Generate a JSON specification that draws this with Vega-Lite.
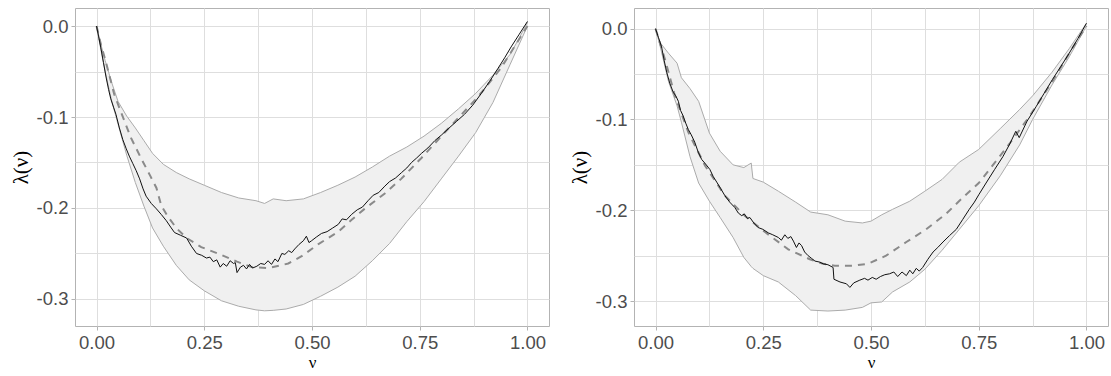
{
  "$schema": "https://vega.github.io/schema/vega-lite/v6.json",
  "background": "white",
  "padding": {"left": 9, "top": 7, "right": 8, "bottom": 0},
  "spacing": 18,
  "config": {
    "view": {"stroke": "#B3B3B3", "strokeWidth": 1},
    "axis": {
      "domain": false,
      "gridColor": "#DEDEDE",
      "gridWidth": 1,
      "tickColor": "#B3B3B3",
      "tickSize": 4,
      "labelPadding": 3,
      "labelFont": "Liberation Sans",
      "labelFontSize": 18.5,
      "labelColor": "#4D4D4D",
      "titleFont": "Liberation Serif",
      "titleFontSize": 20,
      "titleFontWeight": "normal",
      "titleColor": "#000000"
    }
  },
  "datasets": {
    "bandL": [
      {"v": 0, "hi": 0, "lo": 0},
      {"v": 0.01, "hi": -0.020, "lo": -0.026},
      {"v": 0.02, "hi": -0.038, "lo": -0.050},
      {"v": 0.035, "hi": -0.062, "lo": -0.082},
      {"v": 0.05, "hi": -0.083, "lo": -0.108},
      {"v": 0.07, "hi": -0.099, "lo": -0.142},
      {"v": 0.09, "hi": -0.112, "lo": -0.172},
      {"v": 0.11, "hi": -0.126, "lo": -0.198},
      {"v": 0.13, "hi": -0.140, "lo": -0.222},
      {"v": 0.155, "hi": -0.152, "lo": -0.242},
      {"v": 0.185, "hi": -0.161, "lo": -0.263},
      {"v": 0.215, "hi": -0.168, "lo": -0.279},
      {"v": 0.25, "hi": -0.175, "lo": -0.291},
      {"v": 0.29, "hi": -0.183, "lo": -0.302},
      {"v": 0.33, "hi": -0.189, "lo": -0.308},
      {"v": 0.37, "hi": -0.192, "lo": -0.312},
      {"v": 0.39, "hi": -0.195, "lo": -0.313},
      {"v": 0.41, "hi": -0.190, "lo": -0.3125},
      {"v": 0.44, "hi": -0.192, "lo": -0.311},
      {"v": 0.48, "hi": -0.190, "lo": -0.306},
      {"v": 0.52, "hi": -0.183, "lo": -0.297},
      {"v": 0.56, "hi": -0.175, "lo": -0.287},
      {"v": 0.60, "hi": -0.166, "lo": -0.275},
      {"v": 0.64, "hi": -0.155, "lo": -0.258},
      {"v": 0.68, "hi": -0.143, "lo": -0.239},
      {"v": 0.72, "hi": -0.133, "lo": -0.215},
      {"v": 0.76, "hi": -0.121, "lo": -0.193},
      {"v": 0.80, "hi": -0.107, "lo": -0.168},
      {"v": 0.84, "hi": -0.091, "lo": -0.143},
      {"v": 0.88, "hi": -0.074, "lo": -0.117},
      {"v": 0.92, "hi": -0.054, "lo": -0.084},
      {"v": 0.96, "hi": -0.031, "lo": -0.042},
      {"v": 0.98, "hi": -0.014, "lo": -0.021},
      {"v": 1.0, "hi": 0.004, "lo": 0.0}
    ],
    "meanL": [
      {"v": 0, "y": 0}, {"v": 0.010, "y": -0.020}, {"v": 0.022, "y": -0.040}, {"v": 0.041, "y": -0.075},
      {"v": 0.057, "y": -0.095}, {"v": 0.08, "y": -0.123}, {"v": 0.103, "y": -0.145}, {"v": 0.125, "y": -0.165},
      {"v": 0.139, "y": -0.178}, {"v": 0.150, "y": -0.197}, {"v": 0.165, "y": -0.209}, {"v": 0.185, "y": -0.222},
      {"v": 0.209, "y": -0.233}, {"v": 0.243, "y": -0.243}, {"v": 0.287, "y": -0.251}, {"v": 0.326, "y": -0.259},
      {"v": 0.36, "y": -0.265}, {"v": 0.40, "y": -0.266}, {"v": 0.445, "y": -0.261}, {"v": 0.476, "y": -0.253},
      {"v": 0.514, "y": -0.240}, {"v": 0.561, "y": -0.226}, {"v": 0.592, "y": -0.213}, {"v": 0.622, "y": -0.201},
      {"v": 0.669, "y": -0.184}, {"v": 0.707, "y": -0.168}, {"v": 0.754, "y": -0.145}, {"v": 0.808, "y": -0.117},
      {"v": 0.885, "y": -0.078}, {"v": 0.939, "y": -0.046}, {"v": 1.0, "y": 0.0}
    ],
    "obsL": [
      {"v": 0, "y": 0}, {"v": 0.005, "y": -0.012}, {"v": 0.010, "y": -0.024}, {"v": 0.016, "y": -0.040},
      {"v": 0.022, "y": -0.056}, {"v": 0.028, "y": -0.070}, {"v": 0.033, "y": -0.080}, {"v": 0.040, "y": -0.090},
      {"v": 0.045, "y": -0.097}, {"v": 0.053, "y": -0.112}, {"v": 0.061, "y": -0.125}, {"v": 0.069, "y": -0.135},
      {"v": 0.076, "y": -0.143}, {"v": 0.084, "y": -0.151}, {"v": 0.092, "y": -0.159}, {"v": 0.100, "y": -0.168},
      {"v": 0.108, "y": -0.179}, {"v": 0.115, "y": -0.187}, {"v": 0.127, "y": -0.195}, {"v": 0.139, "y": -0.201},
      {"v": 0.150, "y": -0.207}, {"v": 0.162, "y": -0.214}, {"v": 0.172, "y": -0.221}, {"v": 0.181, "y": -0.227},
      {"v": 0.195, "y": -0.230}, {"v": 0.209, "y": -0.233}, {"v": 0.220, "y": -0.242}, {"v": 0.232, "y": -0.250},
      {"v": 0.244, "y": -0.252}, {"v": 0.255, "y": -0.255}, {"v": 0.263, "y": -0.254}, {"v": 0.271, "y": -0.259},
      {"v": 0.279, "y": -0.257}, {"v": 0.287, "y": -0.265}, {"v": 0.294, "y": -0.261}, {"v": 0.302, "y": -0.264},
      {"v": 0.310, "y": -0.258}, {"v": 0.318, "y": -0.261}, {"v": 0.322, "y": -0.260}, {"v": 0.326, "y": -0.271},
      {"v": 0.334, "y": -0.265}, {"v": 0.341, "y": -0.263}, {"v": 0.348, "y": -0.267}, {"v": 0.355, "y": -0.262},
      {"v": 0.362, "y": -0.266}, {"v": 0.372, "y": -0.264}, {"v": 0.381, "y": -0.261}, {"v": 0.390, "y": -0.262},
      {"v": 0.398, "y": -0.258}, {"v": 0.406, "y": -0.262}, {"v": 0.414, "y": -0.256}, {"v": 0.421, "y": -0.259},
      {"v": 0.430, "y": -0.250}, {"v": 0.437, "y": -0.251}, {"v": 0.446, "y": -0.247}, {"v": 0.453, "y": -0.249},
      {"v": 0.460, "y": -0.245}, {"v": 0.470, "y": -0.240}, {"v": 0.480, "y": -0.236}, {"v": 0.487, "y": -0.231},
      {"v": 0.493, "y": -0.238}, {"v": 0.499, "y": -0.236}, {"v": 0.510, "y": -0.232}, {"v": 0.522, "y": -0.228},
      {"v": 0.535, "y": -0.226}, {"v": 0.548, "y": -0.222}, {"v": 0.561, "y": -0.218}, {"v": 0.570, "y": -0.212},
      {"v": 0.580, "y": -0.213}, {"v": 0.592, "y": -0.207}, {"v": 0.605, "y": -0.202}, {"v": 0.617, "y": -0.199},
      {"v": 0.630, "y": -0.192}, {"v": 0.642, "y": -0.186}, {"v": 0.655, "y": -0.183}, {"v": 0.669, "y": -0.176},
      {"v": 0.680, "y": -0.171}, {"v": 0.694, "y": -0.167}, {"v": 0.708, "y": -0.161}, {"v": 0.720, "y": -0.156},
      {"v": 0.731, "y": -0.150}, {"v": 0.743, "y": -0.145}, {"v": 0.754, "y": -0.140}, {"v": 0.769, "y": -0.134},
      {"v": 0.785, "y": -0.126}, {"v": 0.800, "y": -0.120}, {"v": 0.816, "y": -0.113}, {"v": 0.835, "y": -0.105},
      {"v": 0.854, "y": -0.097}, {"v": 0.873, "y": -0.087}, {"v": 0.893, "y": -0.074}, {"v": 0.912, "y": -0.061},
      {"v": 0.931, "y": -0.047}, {"v": 0.947, "y": -0.035}, {"v": 0.962, "y": -0.023}, {"v": 0.981, "y": -0.009},
      {"v": 1.0, "y": 0.005}
    ],
    "bandR": [
      {"v": 0, "hi": 0, "lo": 0},
      {"v": 0.01, "hi": -0.015, "lo": -0.018},
      {"v": 0.03, "hi": -0.027, "lo": -0.058},
      {"v": 0.05, "hi": -0.038, "lo": -0.085},
      {"v": 0.06, "hi": -0.054, "lo": -0.103},
      {"v": 0.08, "hi": -0.066, "lo": -0.141},
      {"v": 0.1, "hi": -0.080, "lo": -0.170},
      {"v": 0.125, "hi": -0.115, "lo": -0.190},
      {"v": 0.15, "hi": -0.135, "lo": -0.208},
      {"v": 0.18, "hi": -0.150, "lo": -0.230},
      {"v": 0.205, "hi": -0.153, "lo": -0.252},
      {"v": 0.222, "hi": -0.148, "lo": -0.262},
      {"v": 0.226, "hi": -0.165, "lo": -0.264},
      {"v": 0.25, "hi": -0.169, "lo": -0.272},
      {"v": 0.285, "hi": -0.179, "lo": -0.279},
      {"v": 0.325, "hi": -0.191, "lo": -0.294},
      {"v": 0.36, "hi": -0.202, "lo": -0.310},
      {"v": 0.4, "hi": -0.205, "lo": -0.311},
      {"v": 0.44, "hi": -0.212, "lo": -0.310},
      {"v": 0.48, "hi": -0.214, "lo": -0.307},
      {"v": 0.5, "hi": -0.212, "lo": -0.302},
      {"v": 0.525, "hi": -0.205, "lo": -0.301},
      {"v": 0.55, "hi": -0.199, "lo": -0.290},
      {"v": 0.59, "hi": -0.190, "lo": -0.279},
      {"v": 0.625, "hi": -0.179, "lo": -0.265},
      {"v": 0.665, "hi": -0.166, "lo": -0.244},
      {"v": 0.705, "hi": -0.147, "lo": -0.221},
      {"v": 0.75, "hi": -0.133, "lo": -0.195},
      {"v": 0.8, "hi": -0.110, "lo": -0.162},
      {"v": 0.845, "hi": -0.089, "lo": -0.128},
      {"v": 0.875, "hi": -0.074, "lo": -0.100},
      {"v": 0.92, "hi": -0.048, "lo": -0.062},
      {"v": 0.96, "hi": -0.022, "lo": -0.031},
      {"v": 1.0, "hi": 0.006, "lo": 0.003}
    ],
    "meanR": [
      {"v": 0, "y": 0}, {"v": 0.022, "y": -0.034}, {"v": 0.045, "y": -0.074}, {"v": 0.076, "y": -0.114},
      {"v": 0.115, "y": -0.151}, {"v": 0.161, "y": -0.184}, {"v": 0.207, "y": -0.206}, {"v": 0.254, "y": -0.224},
      {"v": 0.308, "y": -0.243}, {"v": 0.358, "y": -0.254}, {"v": 0.389, "y": -0.259}, {"v": 0.416, "y": -0.261},
      {"v": 0.458, "y": -0.261}, {"v": 0.493, "y": -0.259}, {"v": 0.535, "y": -0.250}, {"v": 0.582, "y": -0.235},
      {"v": 0.628, "y": -0.221}, {"v": 0.674, "y": -0.204}, {"v": 0.713, "y": -0.186}, {"v": 0.75, "y": -0.170},
      {"v": 0.775, "y": -0.155}, {"v": 0.821, "y": -0.127}, {"v": 0.867, "y": -0.097}, {"v": 0.921, "y": -0.058},
      {"v": 0.96, "y": -0.027}, {"v": 1.0, "y": 0.003}
    ],
    "obsR": [
      {"v": 0, "y": 0}, {"v": 0.007, "y": -0.010}, {"v": 0.014, "y": -0.020}, {"v": 0.020, "y": -0.035},
      {"v": 0.026, "y": -0.048}, {"v": 0.033, "y": -0.060}, {"v": 0.041, "y": -0.070}, {"v": 0.047, "y": -0.074},
      {"v": 0.053, "y": -0.080}, {"v": 0.058, "y": -0.090}, {"v": 0.064, "y": -0.096}, {"v": 0.070, "y": -0.104},
      {"v": 0.076, "y": -0.111}, {"v": 0.083, "y": -0.117}, {"v": 0.091, "y": -0.125}, {"v": 0.099, "y": -0.136},
      {"v": 0.107, "y": -0.144}, {"v": 0.116, "y": -0.149}, {"v": 0.126, "y": -0.155}, {"v": 0.134, "y": -0.163},
      {"v": 0.142, "y": -0.169}, {"v": 0.151, "y": -0.176}, {"v": 0.161, "y": -0.184}, {"v": 0.172, "y": -0.191},
      {"v": 0.184, "y": -0.197}, {"v": 0.192, "y": -0.203}, {"v": 0.200, "y": -0.206}, {"v": 0.206, "y": -0.204},
      {"v": 0.213, "y": -0.209}, {"v": 0.219, "y": -0.208}, {"v": 0.228, "y": -0.214}, {"v": 0.238, "y": -0.219},
      {"v": 0.249, "y": -0.221}, {"v": 0.262, "y": -0.225}, {"v": 0.272, "y": -0.227}, {"v": 0.285, "y": -0.230},
      {"v": 0.292, "y": -0.233}, {"v": 0.300, "y": -0.227}, {"v": 0.307, "y": -0.231}, {"v": 0.314, "y": -0.229},
      {"v": 0.320, "y": -0.234}, {"v": 0.327, "y": -0.241}, {"v": 0.333, "y": -0.236}, {"v": 0.339, "y": -0.239},
      {"v": 0.346, "y": -0.246}, {"v": 0.354, "y": -0.250}, {"v": 0.362, "y": -0.253}, {"v": 0.370, "y": -0.256},
      {"v": 0.380, "y": -0.257}, {"v": 0.389, "y": -0.259}, {"v": 0.400, "y": -0.260}, {"v": 0.412, "y": -0.263},
      {"v": 0.414, "y": -0.276}, {"v": 0.428, "y": -0.279}, {"v": 0.443, "y": -0.281}, {"v": 0.451, "y": -0.285},
      {"v": 0.460, "y": -0.280}, {"v": 0.474, "y": -0.277}, {"v": 0.485, "y": -0.275}, {"v": 0.493, "y": -0.277},
      {"v": 0.503, "y": -0.274}, {"v": 0.512, "y": -0.276}, {"v": 0.522, "y": -0.273}, {"v": 0.532, "y": -0.271},
      {"v": 0.543, "y": -0.270}, {"v": 0.553, "y": -0.268}, {"v": 0.562, "y": -0.273}, {"v": 0.572, "y": -0.268},
      {"v": 0.582, "y": -0.272}, {"v": 0.590, "y": -0.266}, {"v": 0.597, "y": -0.270}, {"v": 0.605, "y": -0.264},
      {"v": 0.612, "y": -0.267}, {"v": 0.620, "y": -0.263}, {"v": 0.632, "y": -0.254}, {"v": 0.644, "y": -0.246},
      {"v": 0.655, "y": -0.241}, {"v": 0.667, "y": -0.235}, {"v": 0.682, "y": -0.228}, {"v": 0.698, "y": -0.221},
      {"v": 0.713, "y": -0.210}, {"v": 0.728, "y": -0.199}, {"v": 0.740, "y": -0.191}, {"v": 0.750, "y": -0.183},
      {"v": 0.767, "y": -0.170}, {"v": 0.787, "y": -0.155}, {"v": 0.806, "y": -0.141}, {"v": 0.822, "y": -0.127},
      {"v": 0.836, "y": -0.113}, {"v": 0.844, "y": -0.120}, {"v": 0.862, "y": -0.102}, {"v": 0.883, "y": -0.086},
      {"v": 0.902, "y": -0.071}, {"v": 0.921, "y": -0.056}, {"v": 0.940, "y": -0.042}, {"v": 0.960, "y": -0.027},
      {"v": 0.980, "y": -0.011}, {"v": 1.0, "y": 0.006}
    ]
  },
  "hconcat": [
    {
      "width": 474,
      "height": 318,
      "layer": [
        {
          "data": {"name": "bandL"},
          "mark": {"type": "area", "fill": "#F0F0F0", "stroke": null},
          "encoding": {
            "x": {"field": "v", "type": "quantitative", "scale": {"domain": [-0.05, 1.05], "nice": false, "zero": false},
              "axis": {"title": "ν", "values": [0, 0.125, 0.25, 0.375, 0.5, 0.625, 0.75, 0.875, 1], "format": ".2f",
                "labelExpr": "indexof([0.125,0.375,0.625,0.875], datum.value) >= 0 ? '' : datum.label",
                "tickOpacity": {"condition": {"test": "indexof([0.125,0.375,0.625,0.875], datum.value) >= 0", "value": 0}, "value": 1},
                "titlePadding": 3, "titleFontSize": 17}},
            "y": {"field": "hi", "type": "quantitative", "scale": {"domain": [-0.3297, 0.0198], "nice": false, "zero": false},
              "axis": {"title": "λ(ν)", "values": [0, -0.05, -0.1, -0.15, -0.2, -0.25, -0.3], "format": ".1f",
                "labelExpr": "indexof([-0.05,-0.15,-0.25], datum.value) >= 0 ? '' : replace(datum.label, '−', '-')",
                "tickOpacity": {"condition": {"test": "indexof([-0.05,-0.15,-0.25], datum.value) >= 0", "value": 0}, "value": 1},
                "titlePadding": 5, "titleFontSize": 21}},
            "y2": {"field": "lo"}
          }
        },
        {
          "data": {"name": "bandL"},
          "mark": {"type": "line", "stroke": "#ABABAB", "strokeWidth": 1},
          "encoding": {
            "x": {"field": "v", "type": "quantitative", "scale": {"domain": [-0.05, 1.05], "nice": false, "zero": false}},
            "y": {"field": "hi", "type": "quantitative", "scale": {"domain": [-0.3297, 0.0198], "nice": false, "zero": false}}
          }
        },
        {
          "data": {"name": "bandL"},
          "mark": {"type": "line", "stroke": "#ABABAB", "strokeWidth": 1},
          "encoding": {
            "x": {"field": "v", "type": "quantitative", "scale": {"domain": [-0.05, 1.05], "nice": false, "zero": false}},
            "y": {"field": "lo", "type": "quantitative", "scale": {"domain": [-0.3297, 0.0198], "nice": false, "zero": false}}
          }
        },
        {
          "data": {"name": "meanL"},
          "mark": {"type": "line", "stroke": "#8A8A8A", "strokeWidth": 2, "strokeDash": [7, 6]},
          "encoding": {
            "x": {"field": "v", "type": "quantitative", "scale": {"domain": [-0.05, 1.05], "nice": false, "zero": false}},
            "y": {"field": "y", "type": "quantitative", "scale": {"domain": [-0.3297, 0.0198], "nice": false, "zero": false}}
          }
        },
        {
          "data": {"name": "obsL"},
          "mark": {"type": "line", "stroke": "#111111", "strokeWidth": 1},
          "encoding": {
            "x": {"field": "v", "type": "quantitative", "scale": {"domain": [-0.05, 1.05], "nice": false, "zero": false}},
            "y": {"field": "y", "type": "quantitative", "scale": {"domain": [-0.3297, 0.0198], "nice": false, "zero": false}}
          }
        }
      ]
    },
    {
      "width": 474,
      "height": 318,
      "layer": [
        {
          "data": {"name": "bandR"},
          "mark": {"type": "area", "fill": "#F0F0F0", "stroke": null},
          "encoding": {
            "x": {"field": "v", "type": "quantitative", "scale": {"domain": [-0.05, 1.05], "nice": false, "zero": false},
              "axis": {"title": "ν", "values": [0, 0.125, 0.25, 0.375, 0.5, 0.625, 0.75, 0.875, 1], "format": ".2f",
                "labelExpr": "indexof([0.125,0.375,0.625,0.875], datum.value) >= 0 ? '' : datum.label",
                "tickOpacity": {"condition": {"test": "indexof([0.125,0.375,0.625,0.875], datum.value) >= 0", "value": 0}, "value": 1},
                "titlePadding": 3, "titleFontSize": 17}},
            "y": {"field": "hi", "type": "quantitative", "scale": {"domain": [-0.3275, 0.0228], "nice": false, "zero": false},
              "axis": {"title": "λ(ν)", "values": [0, -0.05, -0.1, -0.15, -0.2, -0.25, -0.3], "format": ".1f",
                "labelExpr": "indexof([-0.05,-0.15,-0.25], datum.value) >= 0 ? '' : replace(datum.label, '−', '-')",
                "tickOpacity": {"condition": {"test": "indexof([-0.05,-0.15,-0.25], datum.value) >= 0", "value": 0}, "value": 1},
                "titlePadding": 5, "titleFontSize": 21}},
            "y2": {"field": "lo"}
          }
        },
        {
          "data": {"name": "bandR"},
          "mark": {"type": "line", "stroke": "#ABABAB", "strokeWidth": 1},
          "encoding": {
            "x": {"field": "v", "type": "quantitative", "scale": {"domain": [-0.05, 1.05], "nice": false, "zero": false}},
            "y": {"field": "hi", "type": "quantitative", "scale": {"domain": [-0.3275, 0.0228], "nice": false, "zero": false}}
          }
        },
        {
          "data": {"name": "bandR"},
          "mark": {"type": "line", "stroke": "#ABABAB", "strokeWidth": 1},
          "encoding": {
            "x": {"field": "v", "type": "quantitative", "scale": {"domain": [-0.05, 1.05], "nice": false, "zero": false}},
            "y": {"field": "lo", "type": "quantitative", "scale": {"domain": [-0.3275, 0.0228], "nice": false, "zero": false}}
          }
        },
        {
          "data": {"name": "meanR"},
          "mark": {"type": "line", "stroke": "#8A8A8A", "strokeWidth": 2, "strokeDash": [7, 6]},
          "encoding": {
            "x": {"field": "v", "type": "quantitative", "scale": {"domain": [-0.05, 1.05], "nice": false, "zero": false}},
            "y": {"field": "y", "type": "quantitative", "scale": {"domain": [-0.3275, 0.0228], "nice": false, "zero": false}}
          }
        },
        {
          "data": {"name": "obsR"},
          "mark": {"type": "line", "stroke": "#111111", "strokeWidth": 1},
          "encoding": {
            "x": {"field": "v", "type": "quantitative", "scale": {"domain": [-0.05, 1.05], "nice": false, "zero": false}},
            "y": {"field": "y", "type": "quantitative", "scale": {"domain": [-0.3275, 0.0228], "nice": false, "zero": false}}
          }
        }
      ]
    }
  ]
}
